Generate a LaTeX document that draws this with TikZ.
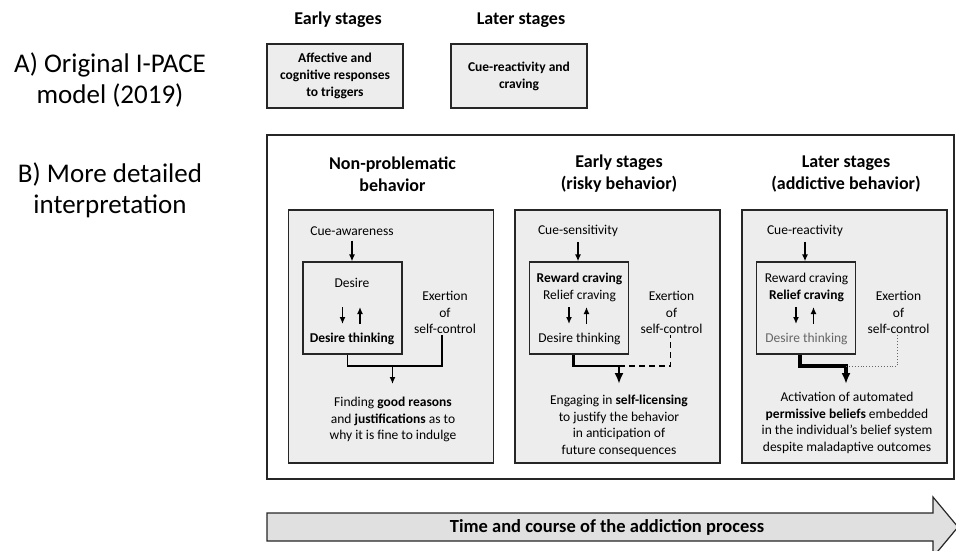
\documentclass[tikz,border=0pt]{standalone}
\usepackage{fontspec}
\setmainfont{Carlito}
\usepackage{tikz}
\usetikzlibrary{arrows.meta,calc}
\definecolor{boxgray}{gray}{0.93}
\definecolor{arrowgray}{gray}{0.88}
\definecolor{linegray}{gray}{0.15}

\begin{document}
\begin{tikzpicture}[x=1pt,y=-1pt,
	txt/.style={font=\fontsize{13.5}{16.5}\selectfont,align=center,inner sep=1pt},
	boxtxt/.style={font=\fontsize{13.5}{17}\selectfont\bfseries,align=center},
	head/.style={font=\fontsize{18}{22}\selectfont\bfseries,align=center},
	toplbl/.style={font=\fontsize{18}{21}\selectfont\bfseries},
	side/.style={font=\fontsize{27}{31}\selectfont,align=center},
	panel/.style={draw=linegray,line width=1.2pt,fill=boxgray,inner sep=0pt},
	link/.style={line width=1.4pt},
	tip/.style={-{Latex[length=7pt,width=6pt]}},
	bigtip/.style={-{Latex[length=11pt,width=9pt]}}]
	\useasboundingbox (0,0) rectangle (956,551);

	\node[side] (sideA) at (110,80) {A) Original I-PACE\\model (2019)};
	\node[side] (sideB) at (110,190) {B) More detailed\\interpretation};

	\node[toplbl] (earlyA) at (338,20) {Early stages};
	\node[toplbl] (laterA) at (521,20) {Later stages};
	\node[panel,boxtxt,minimum width=136pt,minimum height=64pt] (respA) at (335,76) {Affective and\\cognitive responses\\to triggers};
	\node[panel,boxtxt,minimum width=136pt,minimum height=64pt] (cueA) at (519,76) {Cue-reactivity and\\craving};

	\node[draw=linegray,line width=1.2pt,minimum width=687pt,minimum height=344pt] (frameB) at (610.5,307) {};

	\foreach \cx/\n/\head in {391/1/{Non-problematic\\behavior},617.5/2/{Early stages\\(risky behavior)},844.5/3/{Later stages\\(addictive behavior)}}{
		\node[panel,minimum width=205pt,minimum height=253pt] (col\n) at (\cx,336.5) {};
		\node[head] (head\n) at (\cx+1.5,174) {\head};
		\node[panel,minimum width=99pt,minimum height=92pt] (state\n) at (\cx-38.5,308) {};
		\node[txt] (exert\n) at (\cx+54,312.5) {Exertion\\of\\self-control};
		\coordinate (join\n) at (\cx+1.5,366);
		\coordinate (end\n) at (\cx+1.5,384);
	}

	\node[txt] (cue1) at (352,231) {Cue-awareness};
	\node[txt] (cue2) at (578,231) {Cue-sensitivity};
	\node[txt] (cue3) at (805,231) {Cue-reactivity};

	\node[txt] (want1) at (352,283) {Desire};
	\node[txt] (think1) at (352,339) {\textbf{Desire thinking}};
	\node[txt] (want2) at (579.5,287.5) {\textbf{Reward craving}\\Relief craving};
	\node[txt] (think2) at (579.5,339) {Desire thinking};
	\node[txt] (want3) at (806.5,287.5) {Reward craving\\\textbf{Relief craving}};
	\node[txt,text=black!60] (think3) at (806.5,339) {Desire thinking};

	\foreach \n in {1,2,3}{
		\draw[link,tip,shorten <=4pt] (cue\n.south) -- (cue\n.south |- state\n.north);
		\draw[link,tip] ([shift={(-10pt,1pt)}]state\n.center) -- ++(0,17);
		\draw[link,tip] ([shift={(7.5pt,-16pt)}]state\n.center) -- ++(0,-17);}

	\draw[link] ([xshift=-5pt]state1.south) |- (join1) -| ([xshift=-3pt]exert1.south);
	\draw[link,tip] (join1) -- (end1);
	\draw[line width=2.5pt,bigtip,line join=miter] ([xshift=-5.5pt]state2.south) |- (join2) -- (end2);
	\draw[link,dash pattern=on 6pt off 4pt] (join2) -| ([xshift=-1pt]exert2.south);
	\draw[line width=4pt,bigtip,line join=miter] ([xshift=-6.5pt]state3.south) |- (join3) -- (end3);
	\draw[line width=0.9pt,dotted,draw=black!60] (join3) -| ([xshift=-1pt]exert3.south);

	\node[txt] (out1) at (393,419.5) {Finding \textbf{good reasons}\\and \textbf{justifications} as to\\why it is fine to indulge};
	\node[txt] (out2) at (619,426) {Engaging in \textbf{self-licensing}\\to justify the behavior\\in anticipation of\\future consequences};
	\node[txt] (out3) at (847,423) {Activation of automated\\\textbf{permissive beliefs} embedded\\in the individual’s belief system\\despite maladaptive outcomes};

	\draw[line width=1.2pt,draw=linegray,fill=arrowgray] (267,513) -- (933,513) -- (933,497) -- (958,527) -- (933,557) -- (933,541) -- (267,541) -- cycle;
	\node[font=\fontsize{18.5}{21}\selectfont\bfseries] (timeline) at (607,527) {Time and course of the addiction process};
\end{tikzpicture}
\end{document}
